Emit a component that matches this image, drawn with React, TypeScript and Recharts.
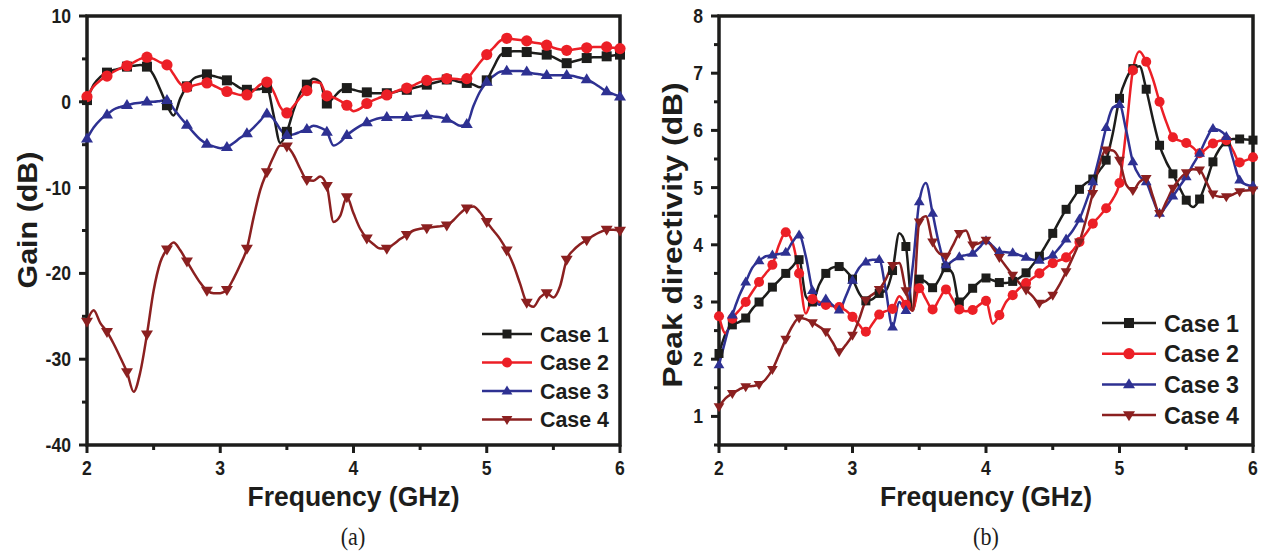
import { LineChart, Line, XAxis, YAxis, ReferenceArea, Legend } from "recharts";

const SANS = "'Liberation Sans', Arial, sans-serif";
const SERIF = "'Liberation Serif', 'Times New Roman', serif";
const INK = "#1d1d1b";

// shared frequency grid (GHz)
const freqGHz = [
  2.0, 2.05, 2.1, 2.15, 2.2, 2.25, 2.3, 2.35, 2.4, 2.45,
  2.5, 2.55, 2.6, 2.65, 2.7, 2.75, 2.8, 2.85, 2.9, 2.95,
  3.0, 3.05, 3.1, 3.15, 3.2, 3.25, 3.3, 3.35, 3.4, 3.45,
  3.5, 3.55, 3.6, 3.65, 3.7, 3.75, 3.8, 3.85, 3.9, 3.95,
  4.0, 4.05, 4.1, 4.15, 4.2, 4.25, 4.3, 4.35, 4.4, 4.45,
  4.5, 4.55, 4.6, 4.65, 4.7, 4.75, 4.8, 4.85, 4.9, 4.95,
  5.0, 5.05, 5.1, 5.15, 5.2, 5.25, 5.3, 5.35, 5.4, 5.45,
  5.5, 5.55, 5.6, 5.65, 5.7, 5.75, 5.8, 5.85, 5.9, 5.95,
  6.0,
];

// (a) gain, dB
const gainCase1 = [
  0.2, 2.0, 2.9, 3.4, 3.7, 3.9, 4.1, 4.2, 4.3, 4.1,
  3.1, 1.4, -0.4, -1.6, 0.4, 1.8, 2.7, 3.0, 3.2, 3.0,
  2.8, 2.5, 2.1, 1.6, 1.4, 1.4, 1.5, 1.6, -1.5, -4.8,
  -3.5, -1.0, 1.0, 2.0, 2.7, 2.3, -0.2, 0.5, 1.3, 1.6,
  1.4, 1.2, 1.1, 1.0, 1.0, 1.0, 1.1, 1.3, 1.4, 1.6,
  1.8, 2.0, 2.2, 2.4, 2.6, 2.5, 2.3, 2.2, 2.0, 1.7,
  2.5, 4.0, 5.4, 5.8, 5.9, 5.9, 5.8, 5.7, 5.6, 5.5,
  5.2, 4.8, 4.5, 4.7, 4.9, 5.1, 5.2, 5.2, 5.3, 5.4,
  5.5,
];
const gainCase2 = [
  0.6, 1.8, 2.5, 3.0, 3.5, 3.9, 4.2, 4.6, 5.0, 5.2,
  5.0, 4.6, 4.3, 3.2, 2.1, 1.7, 1.9, 2.1, 2.2, 1.9,
  1.5, 1.2, 1.0, 0.8, 0.8, 1.3, 2.0, 2.3, 1.2, -0.6,
  -1.3, -0.5, 0.5, 1.3, 2.3, 2.2, 0.7, 0.5, 0.1, -0.4,
  -1.1, -0.8, -0.2, 0.2, 0.5, 0.8, 1.1, 1.4, 1.6, 1.9,
  2.3, 2.5, 2.6, 2.7, 2.7, 2.7, 2.6, 2.7, 3.6, 4.6,
  5.5, 6.3, 7.1, 7.4, 7.3, 7.2, 7.1, 6.9, 6.8, 6.6,
  6.3, 6.1, 6.0, 6.1, 6.2, 6.3, 6.4, 6.4, 6.4, 6.3,
  6.2,
];
const gainCase3 = [
  -4.3, -3.0, -2.1, -1.5, -0.9, -0.6, -0.4, -0.2, -0.1, 0.0,
  0.0, 0.1, 0.2, -0.8, -1.8, -2.7, -3.6, -4.4, -4.9, -5.2,
  -5.4, -5.3, -4.8, -4.2, -3.7, -3.0, -2.2, -1.4, -2.0, -3.2,
  -3.9, -3.8, -3.5, -3.2, -2.8, -3.0, -3.5, -5.1, -4.7, -3.9,
  -3.3, -2.8, -2.4, -2.1, -1.9, -1.8, -1.8, -1.8, -1.8, -1.7,
  -1.6, -1.6, -1.7, -1.8, -2.0, -2.4, -2.8, -2.6, -0.5, 1.2,
  2.3, 3.0, 3.5, 3.6, 3.6, 3.6, 3.5, 3.3, 3.2, 3.1,
  3.1, 3.1, 3.1, 3.0, 2.8, 2.6, 2.2, 1.7, 1.2, 0.9,
  0.6,
];
const gainCase4 = [
  -25.6, -24.3, -25.8, -26.8, -28.2, -29.8, -31.5, -33.8, -31.5, -27.1,
  -22.0, -18.7, -17.2, -16.4, -17.3, -18.6, -19.9, -21.1, -22.0, -22.3,
  -22.3, -21.9, -20.6, -19.0, -17.1, -13.5, -10.3, -8.2, -6.4, -5.1,
  -5.2, -6.2, -7.8, -9.1, -9.2, -8.7, -9.8, -14.0, -13.3, -11.1,
  -13.0, -14.8, -15.9, -16.6, -17.1, -17.1, -16.6, -16.0, -15.5, -15.0,
  -14.8, -14.7, -14.6, -14.5, -14.4, -13.8, -13.0, -12.4, -12.2, -12.9,
  -14.0, -15.0, -16.0, -17.3, -19.0, -21.2, -23.4, -23.9, -22.8, -22.3,
  -22.8, -21.5, -18.4, -17.3, -16.6, -16.1, -15.6, -15.2, -14.9, -14.9,
  -15.0,
];

// (b) peak directivity, dB
const dirCase1 = [
  2.1, 2.45, 2.6, 2.65, 2.72, 2.88, 3.0, 3.12, 3.26, 3.38,
  3.5, 3.62, 3.74, 3.1, 3.0, 3.3, 3.5, 3.6, 3.62, 3.55,
  3.4, 3.15, 3.02, 3.05, 3.15, 3.2, 3.55, 4.2, 3.97, 2.85,
  3.4, 3.35, 3.25, 3.4, 3.6, 3.5, 3.0, 3.1, 3.24, 3.35,
  3.42, 3.38, 3.34, 3.33, 3.36, 3.42, 3.51, 3.65, 3.8, 4.0,
  4.2, 4.42, 4.62, 4.8, 4.97, 5.08, 5.15, 5.3, 5.48, 5.95,
  6.56, 6.9, 7.08, 7.12, 6.72, 6.2, 5.74, 5.45, 5.24, 5.0,
  4.78, 4.66, 4.8, 5.1, 5.45, 5.68, 5.8, 5.85, 5.85, 5.84,
  5.83,
];
const dirCase2 = [
  2.75, 2.45, 2.71, 2.85, 3.0, 3.18, 3.35, 3.5, 3.65, 4.0,
  4.22, 4.05, 3.5, 2.8, 3.05, 3.0, 2.95, 2.93, 2.91, 2.85,
  2.74, 2.6, 2.48, 2.62, 2.78, 2.84, 2.88, 3.1, 2.95, 2.85,
  3.24, 3.05, 2.87, 3.05, 3.22, 3.05, 2.87, 2.84, 2.86, 2.95,
  3.02, 2.62, 2.77, 3.0, 3.12, 3.24, 3.33, 3.42, 3.5, 3.6,
  3.68, 3.73, 3.78, 3.9, 4.05, 4.2, 4.37, 4.5, 4.64, 4.8,
  5.08, 6.0, 7.05, 7.38, 7.2, 6.9, 6.5, 6.15, 5.88, 5.82,
  5.78, 5.7, 5.6, 5.68, 5.77, 5.82, 5.83, 5.65, 5.44, 5.48,
  5.53,
];
const dirCase3 = [
  1.9, 2.35, 2.77, 3.1, 3.35, 3.6, 3.72, 3.8, 3.82, 3.84,
  3.87, 4.05, 4.17, 3.8, 3.2, 2.95, 3.05, 2.95, 2.86, 3.1,
  3.38, 3.6, 3.7, 3.74, 3.74, 3.2, 2.56, 3.0, 2.85, 3.6,
  4.75, 5.08, 4.55, 4.0, 3.65, 3.72, 3.79, 3.82, 3.85, 3.95,
  4.07, 3.98, 3.88, 3.87, 3.86, 3.82, 3.78, 3.74, 3.73, 3.76,
  3.82, 3.95, 4.1, 4.25, 4.45, 4.75, 5.1, 5.55, 6.05, 6.4,
  6.45, 6.0, 5.45, 5.2, 5.1, 4.8, 4.55, 4.68, 4.85, 5.02,
  5.19, 5.4, 5.6, 5.85, 6.03, 6.0, 5.89, 5.5, 5.13, 5.05,
  5.03,
];
const dirCase4 = [
  1.17, 1.32, 1.4, 1.47, 1.52, 1.53, 1.56, 1.65, 1.82, 2.08,
  2.35, 2.58, 2.72, 2.7, 2.64, 2.57, 2.48, 2.3, 2.13, 2.25,
  2.42, 2.7, 3.03, 3.13, 3.22, 3.4, 3.64, 3.68, 3.2, 2.85,
  4.4, 4.5, 4.05, 3.85, 3.8, 3.98, 4.2, 4.25, 4.0, 4.03,
  4.08, 3.95, 3.78, 3.62, 3.47, 3.33, 3.21, 3.1, 2.98, 3.02,
  3.12, 3.3, 3.53, 3.78, 4.05, 4.45, 4.9, 5.4, 5.66, 5.65,
  5.48, 5.05, 4.95, 5.1, 5.16, 4.85, 4.55, 4.75, 4.99, 5.15,
  5.26, 5.32, 5.31, 5.1, 4.89, 4.84, 4.84, 4.88, 4.93, 4.95,
  4.96,
];

const caseNames = ["Case 1", "Case 2", "Case 3", "Case 4"];
const caseColors = ["#1d1d1b", "#ec1f26", "#2e3192", "#8b2020"];
const caseShapes = ["square", "circle", "up", "down"];

const freqTicks = [2, 2.5, 3, 3.5, 4, 4.5, 5, 5.5, 6];
const gainTicks = [-40, -35, -30, -25, -20, -15, -10, -5, 0, 5, 10];
const dirTicks = [0.5, 1, 1.5, 2, 2.5, 3, 3.5, 4, 4.5, 5, 5.5, 6, 6.5, 7, 7.5, 8];

const gainData = freqGHz.map((f, i) => ({
  f,
  c1: gainCase1[i],
  c2: gainCase2[i],
  c3: gainCase3[i],
  c4: gainCase4[i],
}));
const dirData = freqGHz.map((f, i) => ({
  f,
  c1: dirCase1[i],
  c2: dirCase2[i],
  c3: dirCase3[i],
  c4: dirCase4[i],
}));

const PLOT_TOP = 16;
const PLOT_BOTTOM = 445;
const CHART_H = 556;

function NText({ x, y, text, size, len, sx = 0.88, anchor = "middle", vertical = false, family = SANS, weight = 700 }: any) {
  const tf = `translate(${x},${y})` + (len ? "" : ` scale(${sx},1)`) + (vertical ? " rotate(-90)" : "");
  return (
    <text
      transform={tf}
      x={0}
      y={0}
      textAnchor={anchor}
      dominantBaseline="central"
      fontFamily={family}
      fontWeight={weight}
      fontSize={size}
      fill={INK}
      textLength={len}
      lengthAdjust={len ? "spacingAndGlyphs" : undefined}
    >
      {text}
    </text>
  );
}

function Marker({ shape, cx, cy, color, s }: any) {
  if (shape === "square") return <rect x={cx - s / 2} y={cy - s / 2} width={s} height={s} fill={color} />;
  if (shape === "circle") return <circle cx={cx} cy={cy} r={s * 0.56} fill={color} />;
  const w = s * 1.2;
  const h = s * 1.0;
  if (shape === "up")
    return <polygon points={`${cx},${cy - h * 0.62} ${cx - w / 2},${cy + h * 0.38} ${cx + w / 2},${cy + h * 0.38}`} fill={color} />;
  return <polygon points={`${cx},${cy + h * 0.62} ${cx - w / 2},${cy - h * 0.38} ${cx + w / 2},${cy - h * 0.38}`} fill={color} />;
}

type PanelProps = {
  width: number;
  plotLeft: number;
  plotRight: number;
  data: any[];
  yDomain: [number, number];
  yTicks: number[];
  isMajorY: (v: number) => boolean;
  yTitle: string;
  yTitleX: number;
  yTitleY: number;
  yTitleLen: number;
  yLabelRight: number;
  markerEvery: number;
  markerSize: number;
  legend: { left: number; top: number; gap: number; lineLen: number; size: number; textLen: number; markerSize: number };
};

function Panel(p: PanelProps) {
  const xAxisH = 60;
  const yAxisW = p.plotLeft - 10;

  const renderDot = (k: number) => (props: any) => {
    const { cx, cy, index } = props;
    const show = index % p.markerEvery === 0 || index === p.data.length - 1;
    if (!show || cx == null || cy == null) return <g key={`d${k}-${index}`} />;
    return (
      <g key={`d${k}-${index}`}>
        <Marker shape={caseShapes[k]} cx={cx} cy={cy} color={caseColors[k]} s={p.markerSize} />
      </g>
    );
  };

  const xTick = (props: any) => {
    const v = props.payload.value;
    const major = Number.isInteger(v);
    return (
      <g key={`xt${v}`}>
        <line x1={props.x} x2={props.x} y1={PLOT_BOTTOM} y2={PLOT_BOTTOM + (major ? 8 : 5)} stroke={INK} strokeWidth={3} />
        {major && <NText x={props.x} y={468} text={String(v)} size={20} />}
      </g>
    );
  };

  const yTick = (props: any) => {
    const v = props.payload.value;
    const major = p.isMajorY(v);
    return (
      <g key={`yt${v}`}>
        <line x1={p.plotLeft - (major ? 8 : 5)} x2={p.plotLeft} y1={props.y} y2={props.y} stroke={INK} strokeWidth={3} />
        {major && <NText x={p.yLabelRight} y={props.y} text={String(v)} size={20} anchor="end" />}
      </g>
    );
  };

  const lg = p.legend;
  const legendContent = () => (
    <svg width={200} height={lg.gap * 4 + 10} style={{ display: "block" }}>
      {caseNames.map((name, i) => {
        const y = 16 + i * lg.gap;
        return (
          <g key={name}>
            <line x1={4} x2={4 + lg.lineLen} y1={y} y2={y} stroke={caseColors[i]} strokeWidth={2.5} />
            <Marker shape={caseShapes[i]} cx={4 + lg.lineLen / 2} cy={y} color={caseColors[i]} s={lg.markerSize} />
            <NText x={4 + lg.lineLen + 8} y={y} text={name} size={lg.size} len={lg.textLen} anchor="start" />
          </g>
        );
      })}
    </svg>
  );

  return (
    <LineChart
      width={p.width}
      height={CHART_H}
      data={p.data}
      margin={{ top: PLOT_TOP, right: p.width - p.plotRight, left: 10, bottom: CHART_H - PLOT_BOTTOM - xAxisH }}
    >
      <XAxis
        dataKey="f"
        type="number"
        domain={[2, 6]}
        ticks={freqTicks}
        height={xAxisH}
        axisLine={false}
        tickLine={false}
        tick={xTick}
        interval={0}
        label={() => <NText x={(p.plotLeft + p.plotRight) / 2} y={496} text="Frequency (GHz)" size={28} len={212} />}
      />
      <YAxis
        type="number"
        domain={p.yDomain}
        ticks={p.yTicks}
        width={yAxisW}
        axisLine={false}
        tickLine={false}
        tick={yTick}
        interval={0}
        label={() => <NText x={p.yTitleX} y={p.yTitleY} text={p.yTitle} size={28} len={p.yTitleLen} vertical />}
      />
      <ReferenceArea
        x1={2}
        x2={6}
        y1={p.yDomain[0]}
        y2={p.yDomain[1]}
        fill="none"
        stroke={INK}
        strokeWidth={3.5}
        ifOverflow="visible"
      />
      {["c1", "c2", "c3", "c4"].map((key, k) => (
        <Line
          key={key}
          type="monotone"
          dataKey={key}
          stroke={caseColors[k]}
          strokeWidth={2.5}
          dot={renderDot(k)}
          activeDot={false}
          isAnimationActive={false}
        />
      ))}
      <Legend
        layout="vertical"
        align="center"
        verticalAlign="middle"
        content={legendContent}
        wrapperStyle={{ left: lg.left, top: lg.top, width: 200, height: lg.gap * 4 + 10 }}
      />
    </LineChart>
  );
}

const captionStyle = (cx: number): React.CSSProperties => ({
  position: "absolute",
  left: cx - 40,
  top: 522,
  width: 80,
  textAlign: "center",
  fontFamily: SERIF,
  fontSize: 26,
  lineHeight: "30px",
  color: INK,
  transform: "scaleX(0.85)",
});

export default function App() {
  return (
    <div style={{ position: "absolute", left: 0, top: 0, width: 1270, height: 556, background: "#fff", overflow: "hidden" }}>
      <div style={{ position: "absolute", left: 0, top: 0 }}>
        <Panel
          width={640}
          plotLeft={87}
          plotRight={620}
          data={gainData}
          yDomain={[-40, 10]}
          yTicks={gainTicks}
          isMajorY={(v) => v % 10 === 0}
          yTitle="Gain (dB)"
          yTitleX={27}
          yTitleY={220}
          yTitleLen={137}
          yLabelRight={71}
          markerEvery={3}
          markerSize={10}
          legend={{ left: 478, top: 318, gap: 28.5, lineLen: 50, size: 22, textLen: 69, markerSize: 9 }}
        />
      </div>
      <div style={{ position: "absolute", left: 640, top: 0 }}>
        <Panel
          width={630}
          plotLeft={79}
          plotRight={613}
          data={dirData}
          yDomain={[0.5, 8]}
          yTicks={dirTicks}
          isMajorY={(v) => Number.isInteger(v)}
          yTitle="Peak directivity (dB)"
          yTitleX={32}
          yTitleY={235}
          yTitleLen={305}
          yLabelRight={63}
          markerEvery={2}
          markerSize={9}
          legend={{ left: 458, top: 307, gap: 30.7, lineLen: 54, size: 24, textLen: 75, markerSize: 10 }}
        />
      </div>
      <div style={captionStyle(353)}>(a)</div>
      <div style={captionStyle(986)}>(b)</div>
    </div>
  );
}
